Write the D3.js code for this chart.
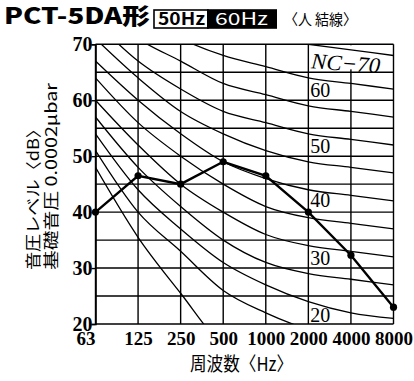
<!DOCTYPE html>
<html><head><meta charset="utf-8">
<script src="https://cdn.jsdelivr.net/npm/d3@7"></script>
<style>html,body{margin:0;padding:0;background:#fff;}svg{display:block;}</style>
</head><body>
<script>
const freqs = ["63","125","250","500","1000","2000","4000","8000"];
const yTicks = [20,30,40,50,60,70];
const gridLevels = [20,25,30,35,40,45,50,55,60,65,70];
const ncNames = ["NC-15","NC-20","NC-25","NC-30","NC-35","NC-40","NC-45","NC-50","NC-55","NC-60","NC-65","NC-70"];
const nc15 = [48,35.5,25.5,16,12,10,8,7];
const nc20 = [51,40,33,26,22,19,17,16];
const nc25 = [54,44,37,31,27,24,22,21];
const nc30 = [57,48,41,35,31,29,28,27];
const nc35 = [60,52,45,40,36,34,33,32];
const nc40 = [64,56,50,45,41,39,38,37];
const nc45 = [67,60,54,49,46,44,43,42];
const nc50 = [71,64,58,54,51,49,48,47];
const nc55 = [74,67,62,58,56,54,53,52];
const nc60 = [77,71,67,63,61,59,58,57];
const nc65 = [80,75,71,68,66,64,63,62];
const nc70 = [83,79,75,72,71,70,69,68];
const ncCurves = [nc15,nc20,nc25,nc30,nc35,nc40,nc45,nc50,nc55,nc60,nc65,nc70];
const ncLabels = [{t:"NC\u221270",f:"2000",v:65.7},{t:"60",f:"2000",v:60.6},{t:"50",f:"2000",v:50.6},{t:"40",f:"2000",v:40.9},{t:"30",f:"2000",v:30.5},{t:"20",f:"2000",v:20.4}];
const measured = [40,46.5,45,49,46.5,40,32.3,23];

const W=414,H=381;
const svg = d3.select("body").append("svg").attr("width",W).attr("height",H);
const x = d3.scalePoint().domain(freqs).range([95.5,393.5]);
const y = d3.scaleLinear().domain([20,70]).range([324,44.3]);
const serif = "'Liberation Serif','Times New Roman',serif";
const cjk = "'Noto Sans CJK JP','Noto Sans',sans-serif";

svg.append("defs").append("clipPath").attr("id","plot")
  .append("rect").attr("x",x("63")).attr("y",y(70)).attr("width",x("8000")-x("63")).attr("height",y(20)-y(70));

// grid
const g = svg.append("g");
g.selectAll("line.h").data(gridLevels).join("line")
  .attr("x1",x("63")).attr("x2",x("8000")).attr("y1",d=>y(d)).attr("y2",d=>y(d))
  .attr("stroke","#000").attr("stroke-width",1.4);
g.selectAll("line.v").data(freqs).join("line")
  .attr("x1",d=>x(d)).attr("x2",d=>x(d)).attr("y1",y(70)).attr("y2",y(20))
  .attr("stroke","#000").attr("stroke-width",1.4);

// y axis ticks & labels
const yAxis = d3.axisLeft(y).tickValues(yTicks).tickSize(4).tickFormat(d3.format("d"));
const ya = svg.append("g").attr("transform",`translate(${x("63")},0)`).call(yAxis);
ya.select(".domain").attr("stroke","#000").attr("stroke-width",1.6);
ya.selectAll(".tick line").attr("stroke","#000").attr("stroke-width",1.4);
ya.selectAll(".tick text").attr("x",-3).attr("dy","0.33em").attr("font-family",serif).attr("font-size",20).attr("font-weight","bold").attr("fill","#000");

// x axis labels
const xAxis = d3.axisBottom(x).tickSize(0).tickPadding(7);
const xa = svg.append("g").attr("transform",`translate(0,${y(20)})`).call(xAxis);
xa.select(".domain").remove();
xa.selectAll(".tick text").attr("font-family",serif).attr("font-size",19).attr("font-weight","bold").attr("fill","#000")
  .attr("dy","0.75em");
xa.selectAll(".tick").filter(d=>d==="63").select("text").attr("x",-10);

// NC curves
const line = d3.line().x((d,i)=>x(freqs[i])).y(d=>y(d)).curve(d3.curveMonotoneX);
// label background for NC-70 (drawn under curves, hides the grid behind it)
const lbl = ncLabels[0];
const lx = x(lbl.f)+2.5, ly = y(lbl.v);
svg.append("rect").attr("x",lx-1).attr("y",y(70)+1).attr("width",72).attr("height",ly-y(70)).attr("fill","#fff");

svg.append("g").attr("clip-path","url(#plot)").selectAll("path").data(ncCurves).join("path")
  .attr("d",line).attr("fill","none").attr("stroke","#000").attr("stroke-width",1.3);

// NC labels
svg.append("text").attr("transform",`translate(${lx},${ly}) rotate(4)`)
  .attr("font-family",serif).attr("font-size",22).attr("font-style","italic").attr("fill","#000")
  .attr("textLength",69).attr("lengthAdjust","spacingAndGlyphs").text(lbl.t);
svg.append("g").selectAll("text").data(ncLabels.slice(1)).join("text")
  .attr("x",d=>x(d.f)+2).attr("y",d=>y(d.v))
  .attr("font-family",serif).attr("font-size",20).attr("fill","#000")
  .text(d=>d.t);

// measured
const mline = d3.line().x((d,i)=>x(freqs[i])).y(d=>y(d));
svg.append("path").datum(measured).attr("d",mline).attr("fill","none").attr("stroke","#000").attr("stroke-width",2.4);
svg.append("g").selectAll("circle").data(measured).join("circle")
  .attr("cx",(d,i)=>x(freqs[i])).attr("cy",d=>y(d)).attr("r",3.6).attr("fill","#000");

// axis titles
svg.append("text").attr("x",190).attr("y",371)
  .attr("font-family",cjk).attr("font-size",19).attr("fill","#000")
  .attr("textLength",103).attr("lengthAdjust","spacingAndGlyphs").text("周波数〈Hz〉");
svg.append("text").attr("transform","translate(39,270) rotate(-90)")
  .attr("font-family",cjk).attr("font-size",16).attr("fill","#000")
  .attr("textLength",150).attr("lengthAdjust","spacingAndGlyphs").text("音圧レベル〈dB〉");
svg.append("text").attr("transform","translate(57,270) rotate(-90)")
  .attr("font-family",cjk).attr("font-size",16).attr("fill","#000")
  .attr("textLength",187).attr("lengthAdjust","spacingAndGlyphs").text("基礎音圧 0.0002μbar");

// header
svg.append("text").attr("x",4).attr("y",24).attr("font-family",cjk).attr("font-weight",900)
  .attr("font-size",22).attr("textLength",146).attr("lengthAdjust","spacingAndGlyphs").attr("fill","#000").text("PCT-5DA形");
svg.append("rect").attr("x",154).attr("y",10).attr("width",54).attr("height",18).attr("fill","#fff").attr("stroke","#000").attr("stroke-width",1.6);
svg.append("text").attr("x",158).attr("y",25).attr("font-family",cjk).attr("font-weight","bold")
  .attr("font-size",17).attr("textLength",47).attr("lengthAdjust","spacingAndGlyphs").attr("fill","#000").text("50Hz");
svg.append("rect").attr("x",207).attr("y",9.2).attr("width",70).attr("height",19.6).attr("fill","#000");
svg.append("text").attr("x",215).attr("y",25).attr("font-family",cjk)
  .attr("font-size",17).attr("textLength",53).attr("lengthAdjust","spacingAndGlyphs").attr("fill","#fff").text("60Hz");
svg.append("text").attr("x",284).attr("y",25).attr("font-family",cjk)
  .attr("font-size",15).attr("textLength",73).attr("lengthAdjust","spacingAndGlyphs").attr("fill","#000").text("〈人 結線〉");
</script>
</body></html>
